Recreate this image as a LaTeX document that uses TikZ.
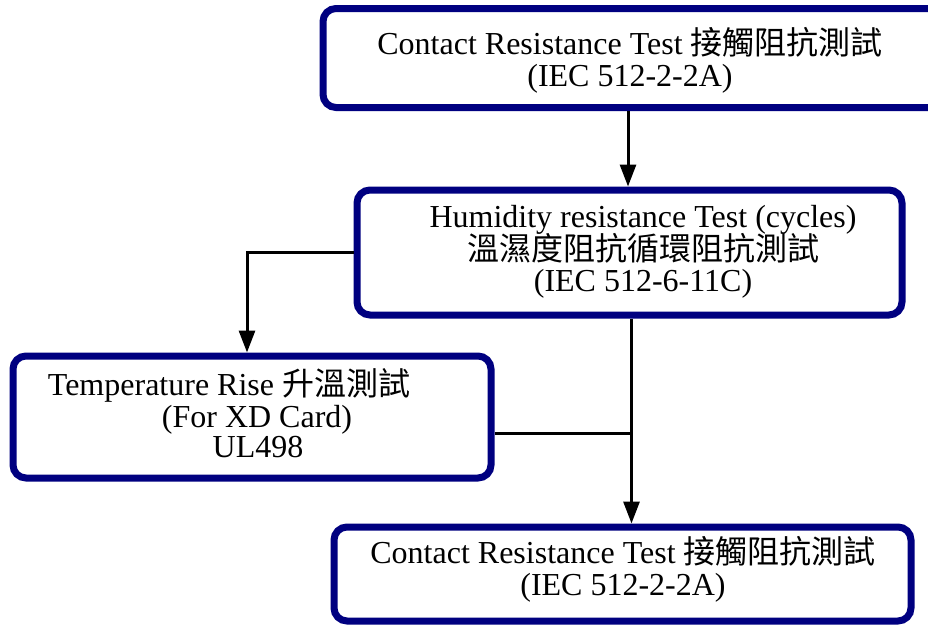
\documentclass[tikz,border=0pt]{standalone}
\usepackage{fontspec}
\setmainfont{Liberation Serif}
\newfontfamily\cjk{Noto Sans CJK TC}
\usetikzlibrary{arrows.meta}
\definecolor{boxnavy}{HTML}{000080}
\begin{document}
\begin{tikzpicture}[x=1pt,y=-1pt,
  box/.style={draw=boxnavy, line width=7pt, rounded corners=13pt, inner sep=0pt, fill=white},
  txt/.style={font=\fontsize{32}{34}\selectfont, inner sep=0pt, anchor=base},
  conn/.style={line width=3pt, draw=black},
  arr/.style={conn, -{Triangle[length=22pt,width=16pt]}}
]
\useasboundingbox (0,0) rectangle (928,624);
\clip (0,0) rectangle (928,624);
\fill[white] (0,0) rectangle (928,624);

% boxes
\node[box, minimum width=660pt, minimum height=99pt] (b1) at (653,58) {};
\node[box, minimum width=545pt, minimum height=125pt] (b2) at (629.5,252.5) {};
\node[box, minimum width=478pt, minimum height=122pt] (b3) at (252,417) {};
\node[box, minimum width=577pt, minimum height=94pt] (b4) at (622.5,574) {};

% texts
\node[txt] (t1a) at (630,54.5) {Contact Resistance Test {\cjk 接觸阻抗測試}};
\node[txt] (t1b) at (630,86.5) {(IEC 512-2-2A)};
\node[txt] (t2a) at (643,227) {Humidity resistance Test (cycles)};
\node[txt] (t2b) at (643,260.5) {\cjk 溫濕度阻抗循環阻抗測試};
\node[txt] (t2c) at (643,291) {(IEC 512-6-11C)};
\node[txt] (t3a) at (229,395) {Temperature Rise {\cjk 升溫測試}};
\node[txt] (t3b) at (257,427) {(For XD Card)};
\node[txt] (t3c) at (258,457) {UL498};
\node[txt] (t4a) at (623,563) {Contact Resistance Test {\cjk 接觸阻抗測試}};
\node[txt] (t4b) at (623,595) {(IEC 512-2-2A)};

% connectors
\coordinate (tr) at ([xshift=2pt]b2.south);
\coordinate (tn) at ([xshift=-1.5pt]b2.north);
\draw[arr] (b1.south -| tn) -- (tn);
\draw[arr] (b2.west) -| ([xshift=-5pt]b3.north);
\draw[arr] (tr) -- (tr |- b4.north);
\draw[conn] ([yshift=-16pt]b3.east) -- ([yshift=-16pt]b3.east -| tr);
\end{tikzpicture}
\end{document}
